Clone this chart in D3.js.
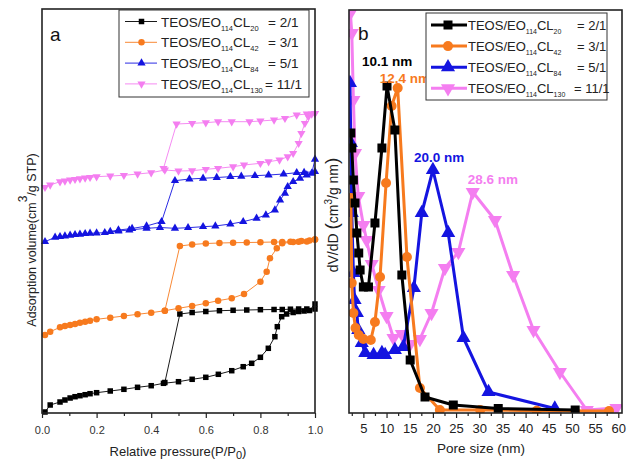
<!DOCTYPE html>
<html><head><meta charset="utf-8">
<script src="https://cdn.jsdelivr.net/npm/d3@7"></script>
<style>body{margin:0;background:#fff}svg{display:block}text{font-family:"Liberation Sans",Arial,sans-serif}</style>
</head><body><svg id="c" width="636" height="461"></svg>
<script>
// ---- Panel a: N2 isotherms (P/P0, volume a.u.) ----
const seriesNames = ["2/1","3/1","5/1","11/1"];
const clSub = ["20","42","84","130"];
const colors = ["#000000","#f77a1e","#1414e0","#f47ef0"];
const shapes = ["square","circle","triangle","triangleDown"];
const xTicksA = [0,0.2,0.4,0.6,0.8,1.0];
const blackAds = [[0.011,1],[0.03,8],[0.066,11],[0.084,13],[0.103,15],[0.121,16.3],[0.139,17.3],[0.158,18.3],[0.176,19.3],[0.2,20.3],[0.25,22],[0.3,23.7],[0.35,25.7],[0.4,27.3],[0.445,29.7],[0.5,31.3],[0.55,33.7],[0.6,35.7],[0.646,38.7],[0.695,42.3],[0.737,46.3],[0.768,49.7],[0.8,55.7],[0.829,64.7],[0.853,76.3],[0.862,86.3],[0.878,96.3],[0.896,99],[0.92,100.5],[0.94,101.5],[0.96,102],[0.98,102.5],[1.0,109]];
const blackDes = [[1.0,104],[0.97,104],[0.94,104],[0.91,103.8],[0.88,103.5],[0.85,103.5],[0.8,103.3],[0.75,103],[0.7,102.7],[0.65,102.3],[0.6,101.5],[0.55,100.5],[0.505,99],[0.45,30.5]];
const orangeAds = [[0.011,78],[0.03,81.3],[0.066,85.7],[0.084,87],[0.103,88],[0.121,89],[0.139,90.3],[0.158,91.3],[0.176,92.3],[0.2,93.7],[0.25,95.3],[0.3,97],[0.35,98.7],[0.4,100.3],[0.45,102.3],[0.5,104.7],[0.55,107],[0.6,109.7],[0.645,112.3],[0.695,114.7],[0.74,119],[0.8,131.3],[0.823,141.3],[0.835,154.7],[0.86,164.7],[0.88,169.7],[0.92,171],[0.95,172],[0.98,172.5],[1.0,173.5]];
const orangeDes = [[1.0,173.5],[0.97,171.5],[0.94,171.3],[0.91,171.3],[0.88,171],[0.85,171],[0.8,170.7],[0.75,170.5],[0.7,170.3],[0.65,170],[0.6,169.5],[0.55,168.5],[0.505,167],[0.45,102.3]];
const blueAds = [[0.011,171.3],[0.048,175.7],[0.066,176.3],[0.084,177],[0.103,177.7],[0.121,178.3],[0.139,178.7],[0.158,179.3],[0.176,179.7],[0.2,180],[0.23,180.3],[0.28,182],[0.32,183],[0.383,184.7],[0.432,185.5],[0.487,184.7],[0.535,185.3],[0.59,186.3],[0.635,187],[0.69,189],[0.737,191.3],[0.786,194.7],[0.82,198],[0.853,203],[0.872,213],[0.89,219.7],[0.9,226.3],[0.92,231.3],[0.945,234.7],[0.97,238],[0.988,239.7],[1.0,253.7]];
const blueDes = [[1.0,241.3],[0.96,240.5],[0.933,240.3],[0.885,239],[0.83,238],[0.78,237.3],[0.73,236.7],[0.69,236.3],[0.64,235.5],[0.59,234.7],[0.54,234],[0.487,232.3],[0.438,191.3],[0.383,187],[0.33,184.5],[0.28,183],[0.25,181.5]];
const pinkAds = [[0.011,225.7],[0.03,228],[0.066,231.3],[0.084,232],[0.103,233],[0.121,233.7],[0.139,234.3],[0.158,235],[0.176,235.7],[0.2,236.3],[0.25,237],[0.3,237.7],[0.35,239],[0.4,240.3],[0.45,243],[0.5,242],[0.55,242.3],[0.6,243.7],[0.645,244.7],[0.7,246.3],[0.74,248],[0.8,249.7],[0.83,251.3],[0.87,253],[0.9,256.3],[0.92,259.7],[0.94,269.7],[0.95,279.7],[0.963,289.7],[0.976,296.3],[0.988,299],[1.0,299.7]];
const pinkDes = [[1.0,299.7],[0.97,299],[0.933,298],[0.89,294.7],[0.85,293],[0.8,292],[0.76,291.3],[0.695,291.3],[0.645,291.3],[0.6,290.3],[0.55,289.7],[0.493,289],[0.445,244.7]];
const isoData = [[blackAds,blackDes],[orangeAds,orangeDes],[blueAds,blueDes],[pinkAds,pinkDes]];

// ---- Panel b: pore size distributions (nm, dV/dD a.u.) ----
const xTicksB = [5,10,15,20,25,30,35,40,45,50,55,60];
const blackPSD = [[2.3,280],[2.5,265],[2.85,233],[3.2,210],[3.6,180],[4.0,160],[4.3,143],[5.0,126],[6.1,126],[7.5,190],[9.0,265],[10.1,327],[11.8,283],[13.3,138],[15.1,53],[18.3,16],[24.4,8],[34.1,4.5],[50.7,3]];
const orangePSD = [[2.3,215],[2.5,130],[2.85,100],[3.3,85],[4.0,78],[5.0,74],[6.6,73],[7.5,91],[8.6,136],[9.9,230],[11.1,307],[12.4,325],[14.4,156],[17.2,25],[21.5,3],[30.2,3],[42.4,2.3],[58,2]];
const bluePSD = [[2.1,330],[2.3,270],[2.5,200],[2.85,140],[3.1,113],[3.6,100],[3.9,83],[4.65,70],[5.4,60],[7.2,58],[9.0,60],[9.7,58],[11.8,63],[13.6,66],[15.9,125],[17.6,200],[20.0,243],[23.3,180],[26.6,75],[32.0,21],[46.3,4.5]];
const pinkPSD = [[2.2,400],[2.5,380],[2.85,313],[3.2,260],[3.9,217],[5.0,188],[5.7,173],[6.8,149],[8.3,123],[10.0,97],[11.5,75],[13.3,79],[15.1,69],[17.2,74],[19.7,100],[22.6,145],[25.5,161],[28.6,221],[33.4,193],[37.3,138],[41.7,83],[47.4,41],[53.2,3],[59.6,5]];
const psdData = [blackPSD,orangePSD,bluePSD,pinkPSD];
const peakLabels = [["10.1 nm",10.1,327],["12.4 nm",12.4,325],["20.0 nm",20.0,243],["28.6 nm",28.6,221]];

const svg = d3.select("#c");
const FONT = '"Liberation Sans",Arial,sans-serif';

function marker(g, shape, x, y, s, color){
  let sym;
  if(shape==="square") sym = d3.symbol(d3.symbolSquare, s*s);
  else if(shape==="circle") sym = d3.symbol(d3.symbolCircle, Math.PI*(s/2)*(s/2));
  else sym = d3.symbol(d3.symbolTriangle, s*s*0.6);
  g.append("path").attr("d", sym()).attr("fill", color)
   .attr("transform", `translate(${x},${y})` + (shape==="triangleDown" ? " rotate(180)" : ""));
}
const sizeA = [5.5,6.5,7,7];
const sizeB = [9,10,12,12];

// ---------- panel a ----------
const A = {l:42, r:315, t:9, b:413};
const xa = d3.scaleLinear().domain([0,1]).range([A.l,A.r]);
const ya = d3.scaleLinear().domain([0,404]).range([A.b,A.t]);
const ga = svg.append("g");
const lineA = d3.line().x(d=>xa(d[0])).y(d=>ya(d[1]));
isoData.forEach((pair,i)=>{
  pair.forEach(arr=>{
    ga.append("path").attr("d", lineA(arr)).attr("fill","none").attr("stroke",colors[i]).attr("stroke-width",0.9);
  });
  pair.forEach(arr=>arr.forEach(d=>marker(ga, shapes[i], xa(d[0]), ya(d[1]), sizeA[i], colors[i])));
});
ga.append("rect").attr("x",A.l).attr("y",A.t).attr("width",A.r-A.l).attr("height",A.b-A.t)
  .attr("fill","none").attr("stroke","#222").attr("stroke-width",1.6);
const axA = ga.append("g").attr("transform",`translate(0,${A.b})`)
  .call(d3.axisBottom(xa).tickValues(xTicksA).tickFormat(d3.format(".1f")).tickSize(5).tickPadding(8));
axA.select(".domain").remove();
axA.selectAll("text").attr("font-size",11).attr("font-family",FONT).attr("fill","#333");
axA.selectAll("line").attr("stroke","#222").attr("stroke-width",1.2);
ga.append("g").attr("transform",`translate(0,${A.b})`)
  .call(d3.axisBottom(xa).tickValues(d3.range(0.1,1,0.2)).tickSize(3).tickFormat(""))
  .call(g=>{g.select(".domain").remove(); g.selectAll("line").attr("stroke","#222").attr("stroke-width",1.2);});
ga.append("text").attr("x",178).attr("y",456).attr("text-anchor","middle").attr("font-size",13).attr("fill","#222")
  .call(t=>{t.append("tspan").text("Relative pressure(P/P"); t.append("tspan").attr("font-size",11).attr("dy",3).text("0"); t.append("tspan").attr("dy",-3).text(")");});
ga.append("text").attr("transform","translate(36,240) rotate(-90)").attr("text-anchor","middle").attr("font-size",12.5).attr("fill","#222")
  .call(t=>{t.append("tspan").text("Adsorption volume(cm"); t.append("tspan").attr("font-size",12).attr("dy",-9).text("3"); t.append("tspan").attr("dy",9).text("/g STP)");});
ga.append("text").attr("x",50).attr("y",41).attr("font-size",19).attr("fill","#111").text("a");

// legend a
const la = ga.append("g");
la.append("rect").attr("x",119).attr("y",10).attr("width",190).attr("height",87).attr("fill","#fff").attr("stroke","#333").attr("stroke-width",1);
seriesNames.forEach((n,i)=>{
  const y = 21.5 + i*20.8;
  la.append("line").attr("x1",125).attr("x2",157).attr("y1",y).attr("y2",y).attr("stroke",colors[i]).attr("stroke-width",0.9);
  marker(la, shapes[i], 141.5, y, sizeA[i], colors[i]);
  const t = la.append("text").attr("x",161).attr("y",y+5).attr("font-size",13.5).attr("fill","#222");
  t.append("tspan").text("TEOS/EO");
  t.append("tspan").attr("font-size",7.5).attr("dy",4).text("114");
  t.append("tspan").attr("dy",-4).text("CL");
  t.append("tspan").attr("font-size",7.5).attr("dy",4).text(clSub[i]);
  t.append("tspan").attr("dy",-4).attr("x", i===3?265:268).text("= "+n);
});

// ---------- panel b ----------
const B = {l:349, r:622, t:10, b:413};
const xb = d3.scaleLinear().domain([1.9,60.8]).range([B.l,B.r]);
const yb = d3.scaleLinear().domain([0,403]).range([B.b,B.t]);
const gb = svg.append("g");
svg.append("defs").append("clipPath").attr("id","cb").append("rect").attr("x",B.l).attr("y",B.t).attr("width",B.r-B.l).attr("height",B.b-B.t);
const plotB = gb.append("g").attr("clip-path","url(#cb)");
const lineB = d3.line().x(d=>xb(d[0])).y(d=>yb(d[1]));
const drawOrder = [3,2,1,0];
drawOrder.forEach(i=>{
  plotB.append("path").attr("d", lineB(psdData[i])).attr("fill","none").attr("stroke",colors[i]).attr("stroke-width",3).attr("stroke-linejoin","round");
  psdData[i].forEach(d=>marker(plotB, shapes[i], xb(d[0]), yb(d[1]), sizeB[i], colors[i]));
});
gb.append("rect").attr("x",B.l).attr("y",B.t).attr("width",B.r-B.l).attr("height",B.b-B.t)
  .attr("fill","none").attr("stroke","#222").attr("stroke-width",1.6);
const axB = gb.append("g").attr("transform",`translate(0,${B.b})`)
  .call(d3.axisBottom(xb).tickValues(xTicksB).tickSize(5).tickPadding(6));
axB.select(".domain").remove();
axB.selectAll("text").attr("font-size",13).attr("font-family",FONT).attr("fill","#222");
axB.selectAll("line").attr("stroke","#222").attr("stroke-width",1.2);
gb.append("g").attr("transform",`translate(0,${B.b})`)
  .call(d3.axisBottom(xb).tickValues(d3.range(2.5,61,5)).tickSize(3).tickFormat(""))
  .call(g=>{g.select(".domain").remove(); g.selectAll("line").attr("stroke","#222").attr("stroke-width",1.2);});
gb.append("text").attr("x",481).attr("y",453).attr("text-anchor","middle").attr("font-size",13.5).attr("fill","#222").text("Pore size (nm)");
gb.append("text").attr("transform","translate(338,215) rotate(-90)").attr("text-anchor","middle").attr("font-size",14).attr("fill","#222")
  .call(t=>{t.append("tspan").text("dV/dD "); t.append("tspan").attr("font-size",19).text("(");
    t.append("tspan").text("cm"); t.append("tspan").attr("font-size",10).attr("dy",-6).text("3");
    t.append("tspan").attr("dy",6).text("/g nm"); t.append("tspan").attr("font-size",19).text(")");});
gb.append("text").attr("x",358).attr("y",40).attr("font-size",19).attr("fill","#111").text("b");
const peakOffsets = [[-25,-20],[-18,-5],[-19,-8],[-5,-8]];
peakLabels.forEach((p,i)=>{
  gb.append("text").attr("x",xb(p[1])+peakOffsets[i][0]).attr("y",yb(p[2])+peakOffsets[i][1])
    .attr("font-size",13.5).attr("font-weight","bold").attr("fill",colors[i]).text(p[0]);
});

// legend b
const lb = gb.append("g");
lb.append("rect").attr("x",426).attr("y",13).attr("width",181).attr("height",87).attr("fill","#fff").attr("stroke","#333").attr("stroke-width",1);
seriesNames.forEach((n,i)=>{
  const y = 25 + i*21.1;
  lb.append("line").attr("x1",431).attr("x2",467).attr("y1",y).attr("y2",y).attr("stroke",colors[i]).attr("stroke-width",3);
  marker(lb, shapes[i], 448, y, sizeB[i], colors[i]);
  const t = lb.append("text").attr("x",468).attr("y",y+5).attr("font-size",13).attr("fill","#222");
  t.append("tspan").text("TEOS/EO");
  t.append("tspan").attr("font-size",7).attr("dy",4).text("114");
  t.append("tspan").attr("dy",-4).text("CL");
  t.append("tspan").attr("font-size",7).attr("dy",4).text(clSub[i]);
  t.append("tspan").attr("dy",-4).attr("x", i===3?574:577).text("= "+n);
});
</script></body></html>
